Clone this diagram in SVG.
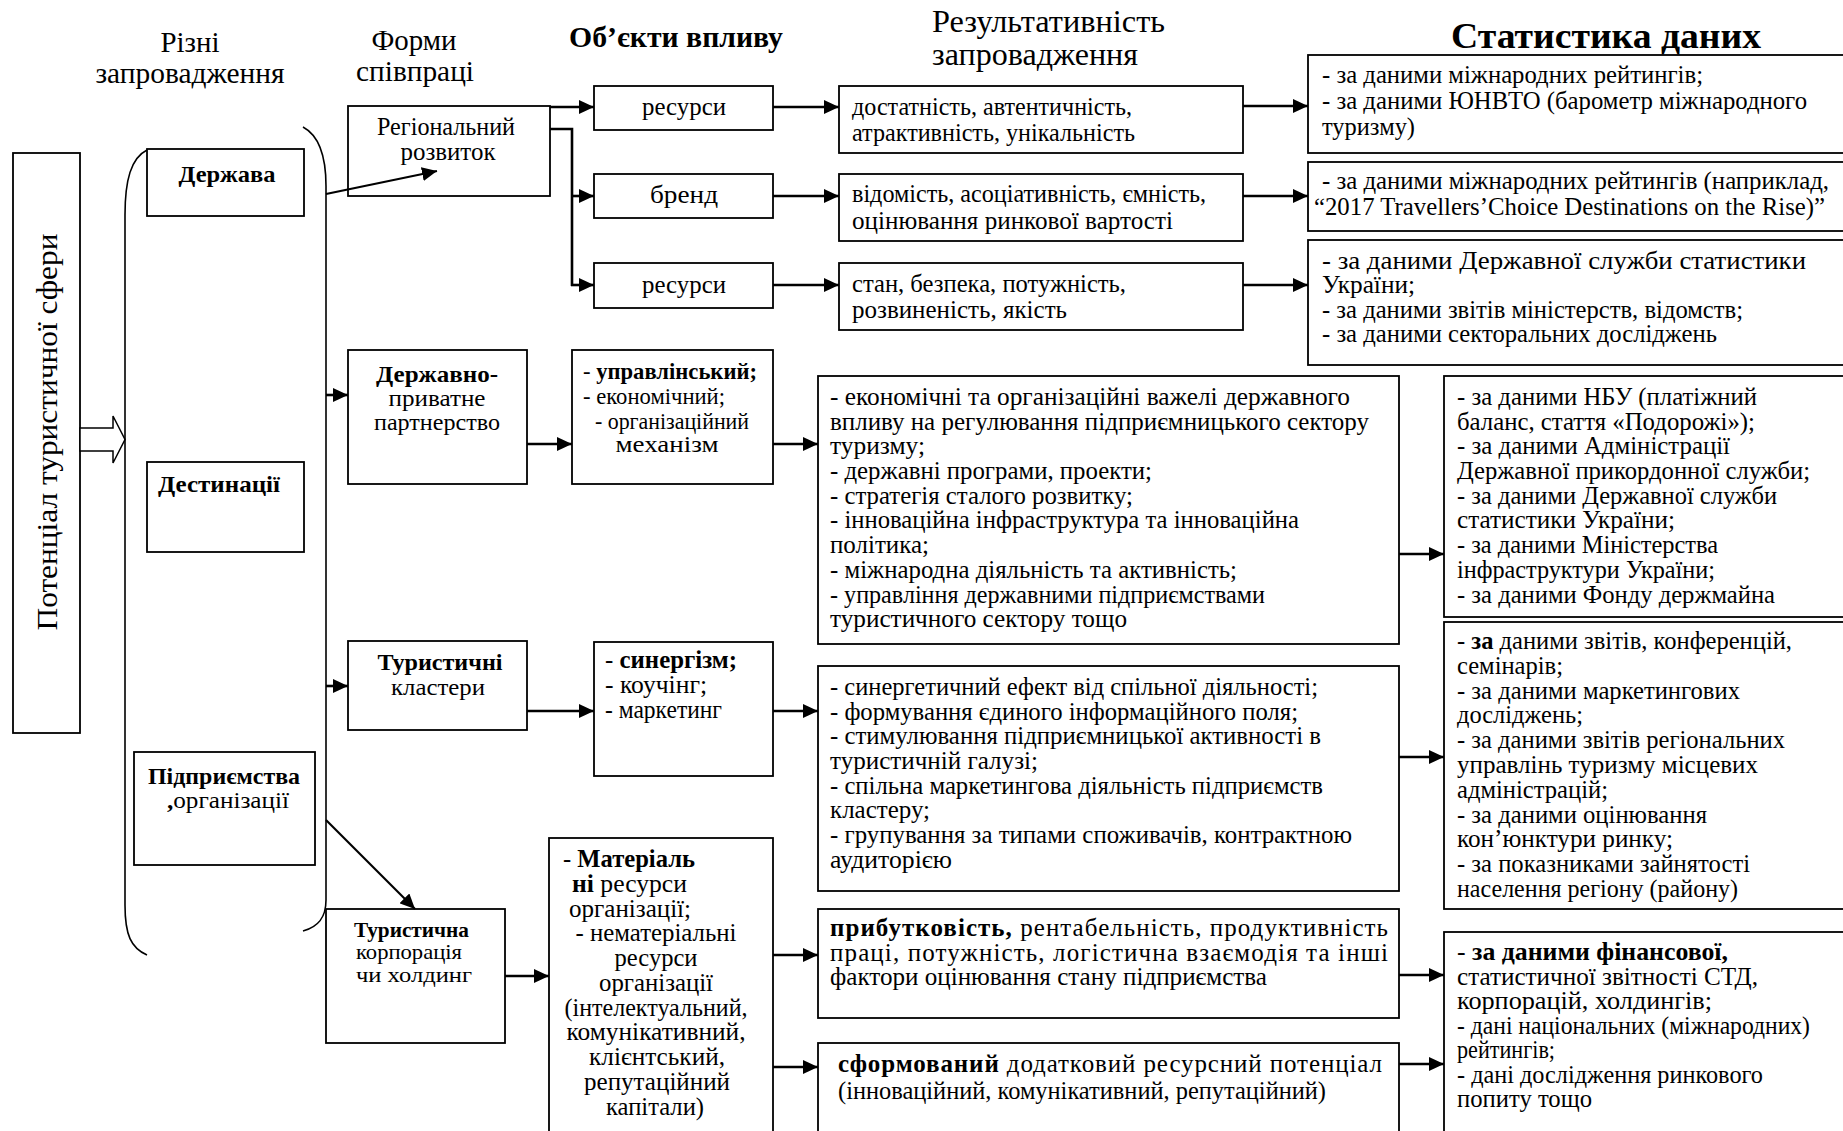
<svg xmlns="http://www.w3.org/2000/svg" width="1843" height="1131" viewBox="0 0 1843 1131">
<style>
.t{font-family:"Liberation Serif","Times New Roman",serif;font-size:25px;fill:#000}
.h{font-size:29px}
.s{font-size:23px}
.b{font-weight:bold}
.box{fill:#fff;stroke:#000;stroke-width:1.8}
.c{stroke:#000;stroke-width:2.6;fill:none;marker-end:url(#ah)}
.ct{stroke:#000;stroke-width:2.2;fill:none;marker-end:url(#ah)}
.ln{stroke:#000;stroke-width:2.6;fill:none}
.br{stroke:#000;stroke-width:1.6;fill:none}
</style>
<defs>
<marker id="ah" markerUnits="userSpaceOnUse" markerWidth="16" markerHeight="14" refX="15" refY="7" orient="auto">
<path d="M0,0 L15,7 L0,14 Z" fill="#000"/>
</marker>
</defs>
<rect width="1843" height="1131" fill="#fff"/>

<g id="headers" class="t">
<text class="h" x="190" y="52" text-anchor="middle" textLength="59" lengthAdjust="spacingAndGlyphs">Різні</text>
<text class="h" x="190" y="83" text-anchor="middle" textLength="189" lengthAdjust="spacingAndGlyphs">запровадження</text>
<text class="h" x="414" y="50" text-anchor="middle" textLength="85" lengthAdjust="spacingAndGlyphs">Форми</text>
<text class="h" x="415" y="81" text-anchor="middle" textLength="118" lengthAdjust="spacingAndGlyphs">співпраці</text>
<text class="h b" x="569" y="47" textLength="214" lengthAdjust="spacingAndGlyphs">Об’єкти впливу</text>
<text x="932" y="32" style="font-size:31px" textLength="233" lengthAdjust="spacingAndGlyphs">Результативність</text>
<text x="932" y="65" style="font-size:31px" textLength="206" lengthAdjust="spacingAndGlyphs">запровадження</text>
<text class="b" x="1451" y="48" style="font-size:36px" textLength="310" lengthAdjust="spacingAndGlyphs">Статистика даних</text>
</g>

<g id="potential">
<rect class="box" x="13" y="153" width="67" height="580"/>
<text class="t" transform="translate(57,432) rotate(-90)" text-anchor="middle" style="font-size:30px" textLength="397" lengthAdjust="spacingAndGlyphs">Потенціал туристичної сфери</text>
</g>

<g id="hollow-arrow">
<polygon points="80,428 113,428 113,416 125,439.5 113,463 113,451 80,451" fill="#fff" stroke="#000" stroke-width="1.5"/>
</g>

<g id="brackets">
<path class="br" d="M147,150 C131,158 125,180 125,215 L125,905 C125,935 131,948 147,955"/>
<path class="br" d="M303,127 C318,135 326,155 326,186 L326,900 C326,918 318,927 303,931"/>
</g>

<g id="derzhava">
<rect class="box" x="147" y="149" width="157" height="67"/>
<text class="t b" x="227" y="182" text-anchor="middle" style="font-size:24px" textLength="97" lengthAdjust="spacingAndGlyphs">Держава</text>
</g>
<g id="destynatsii">
<rect class="box" x="147" y="462" width="157" height="90"/>
<text class="t b" x="219" y="492" text-anchor="middle" style="font-size:24px" textLength="122" lengthAdjust="spacingAndGlyphs">Дестинації</text>
</g>
<g id="pidpryiemstva">
<rect class="box" x="134" y="752" width="181" height="113"/>
<text class="t b" x="224" y="784" text-anchor="middle" style="font-size:24px" textLength="152" lengthAdjust="spacingAndGlyphs">Підприємства</text>
<text class="t" x="228" y="808" text-anchor="middle" style="font-size:24px" textLength="122" lengthAdjust="spacingAndGlyphs"><tspan class="b">,</tspan>організації</text>
</g>

<g id="rehionalnyi">
<rect class="box" x="348" y="106" width="202" height="90"/>
<text class="t" x="446" y="135" text-anchor="middle" textLength="138" lengthAdjust="spacingAndGlyphs">Регіональний</text>
<text class="t" x="448" y="160" text-anchor="middle" textLength="95" lengthAdjust="spacingAndGlyphs">розвиток</text>
</g>
<g id="resursy1">
<rect class="box" x="594" y="86" width="179" height="44"/>
<text class="t" x="684" y="115" text-anchor="middle" textLength="84" lengthAdjust="spacingAndGlyphs">ресурси</text>
</g>
<g id="brend">
<rect class="box" x="594" y="174" width="179" height="44"/>
<text class="t" x="684" y="203" text-anchor="middle" textLength="68" lengthAdjust="spacingAndGlyphs">бренд</text>
</g>
<g id="resursy2">
<rect class="box" x="594" y="263" width="179" height="45"/>
<text class="t" x="684" y="293" text-anchor="middle" textLength="84" lengthAdjust="spacingAndGlyphs">ресурси</text>
</g>

<g id="result1">
<rect class="box" x="839" y="86" width="404" height="67"/>
<text class="t" x="852" y="115" textLength="280" lengthAdjust="spacingAndGlyphs">достатність, автентичність,</text>
<text class="t" x="852" y="141" textLength="283" lengthAdjust="spacingAndGlyphs">атрактивність, унікальність</text>
</g>
<g id="result2">
<rect class="box" x="839" y="174" width="404" height="67"/>
<text class="t" x="852" y="202" textLength="354" lengthAdjust="spacingAndGlyphs">відомість, асоціативність, ємність,</text>
<text class="t" x="852" y="229" textLength="321" lengthAdjust="spacingAndGlyphs">оцінювання ринкової вартості</text>
</g>
<g id="result3">
<rect class="box" x="839" y="263" width="404" height="67"/>
<text class="t" x="852" y="292" textLength="274" lengthAdjust="spacingAndGlyphs">стан, безпека, потужність,</text>
<text class="t" x="852" y="318" textLength="215" lengthAdjust="spacingAndGlyphs">розвиненість, якість</text>
</g>

<g id="stats1">
<rect class="box" x="1308" y="55" width="545" height="98"/>
<text class="t" x="1322" y="83" textLength="381" lengthAdjust="spacingAndGlyphs">- за даними міжнародних рейтингів;</text>
<text class="t" x="1322" y="109" textLength="485" lengthAdjust="spacingAndGlyphs">- за даними ЮНВТО (барометр міжнародного</text>
<text class="t" x="1322" y="135" textLength="93" lengthAdjust="spacingAndGlyphs">туризму)</text>
</g>
<g id="stats2">
<rect class="box" x="1308" y="162" width="545" height="69"/>
<text class="t" x="1322" y="189" textLength="507" lengthAdjust="spacingAndGlyphs">- за даними міжнародних рейтингів (наприклад,</text>
<text class="t" x="1314" y="215" textLength="511" lengthAdjust="spacingAndGlyphs">“2017 Travellers’Choice Destinations on the Rise)”</text>
</g>
<g id="stats3">
<rect class="box" x="1308" y="240" width="545" height="125"/>
<text class="t" x="1322" y="269" textLength="484" lengthAdjust="spacingAndGlyphs">-  за даними Державної служби статистики</text>
<text class="t" x="1322" y="293" textLength="93" lengthAdjust="spacingAndGlyphs">України;</text>
<text class="t" x="1322" y="318" textLength="421" lengthAdjust="spacingAndGlyphs">- за даними звітів міністерств, відомств;</text>
<text class="t" x="1322" y="342" textLength="395" lengthAdjust="spacingAndGlyphs">- за даними секторальних досліджень</text>
</g>

<g id="dpp">
<rect class="box" x="348" y="350" width="179" height="134"/>
<text class="t b" x="437" y="382" text-anchor="middle" style="font-size:24px" textLength="122" lengthAdjust="spacingAndGlyphs">Державно-</text>
<text class="t" x="437" y="406" text-anchor="middle" style="font-size:24px" textLength="97" lengthAdjust="spacingAndGlyphs">приватне</text>
<text class="t" x="437" y="430" text-anchor="middle" style="font-size:24px" textLength="126" lengthAdjust="spacingAndGlyphs">партнерство</text>
</g>
<g id="mekhanizm">
<rect class="box" x="572" y="350" width="201" height="134"/>
<text class="t s" x="583" y="379" textLength="174" lengthAdjust="spacingAndGlyphs">- <tspan class="b">управлінський;</tspan></text>
<text class="t s" x="583" y="404" textLength="142" lengthAdjust="spacingAndGlyphs">- економічний;</text>
<text class="t s" x="672" y="429" text-anchor="middle" textLength="154" lengthAdjust="spacingAndGlyphs">-  організаційний</text>
<text class="t s" x="667" y="452" text-anchor="middle" textLength="103" lengthAdjust="spacingAndGlyphs">механізм</text>
</g>
<g id="vazheli">
<rect class="box" x="818" y="376" width="581" height="268"/>
<text class="t" x="830" y="405" textLength="520" lengthAdjust="spacingAndGlyphs">- економічні та організаційні важелі державного</text>
<text class="t" x="830" y="430" textLength="539" lengthAdjust="spacingAndGlyphs">впливу на регулювання підприємницького сектору</text>
<text class="t" x="830" y="454" textLength="95" lengthAdjust="spacingAndGlyphs">туризму;</text>
<text class="t" x="830" y="479" textLength="322" lengthAdjust="spacingAndGlyphs">- державні програми, проекти;</text>
<text class="t" x="830" y="504" textLength="303" lengthAdjust="spacingAndGlyphs">- стратегія сталого розвитку;</text>
<text class="t" x="830" y="528" textLength="469" lengthAdjust="spacingAndGlyphs">- інноваційна інфраструктура та інноваційна</text>
<text class="t" x="830" y="553" textLength="99" lengthAdjust="spacingAndGlyphs">політика;</text>
<text class="t" x="830" y="578" textLength="407" lengthAdjust="spacingAndGlyphs">- міжнародна діяльність та активність;</text>
<text class="t" x="830" y="603" textLength="435" lengthAdjust="spacingAndGlyphs">- управління державними підприємствами</text>
<text class="t" x="830" y="627" textLength="297" lengthAdjust="spacingAndGlyphs">туристичного сектору тощо</text>
</g>
<g id="stats4">
<rect class="box" x="1444" y="376" width="410" height="241"/>
<text class="t" x="1457" y="405" textLength="300" lengthAdjust="spacingAndGlyphs">- за даними НБУ (платіжний</text>
<text class="t" x="1457" y="430" textLength="298" lengthAdjust="spacingAndGlyphs">баланс, стаття «Подорожі»);</text>
<text class="t" x="1457" y="454" textLength="273" lengthAdjust="spacingAndGlyphs">- за даними Адміністрації</text>
<text class="t" x="1457" y="479" textLength="353" lengthAdjust="spacingAndGlyphs">Державної прикордонної служби;</text>
<text class="t" x="1457" y="504" textLength="320" lengthAdjust="spacingAndGlyphs">- за даними Державної служби</text>
<text class="t" x="1457" y="528" textLength="218" lengthAdjust="spacingAndGlyphs">статистики України;</text>
<text class="t" x="1457" y="553" textLength="261" lengthAdjust="spacingAndGlyphs">- за даними Міністерства</text>
<text class="t" x="1457" y="578" textLength="258" lengthAdjust="spacingAndGlyphs">інфраструктури України;</text>
<text class="t" x="1457" y="603" textLength="318" lengthAdjust="spacingAndGlyphs">- за даними Фонду держмайна</text>
</g>

<g id="klastery">
<rect class="box" x="348" y="641" width="179" height="89"/>
<text class="t b" x="440" y="670" text-anchor="middle" style="font-size:24px" textLength="125" lengthAdjust="spacingAndGlyphs">Туристичні</text>
<text class="t" x="438" y="695" text-anchor="middle" style="font-size:24px" textLength="94" lengthAdjust="spacingAndGlyphs">кластери</text>
</g>
<g id="synerhizm">
<rect class="box" x="594" y="642" width="179" height="134"/>
<text class="t" x="605" y="668" textLength="132" lengthAdjust="spacingAndGlyphs">- <tspan class="b">синергізм;</tspan></text>
<text class="t" x="605" y="693" textLength="102" lengthAdjust="spacingAndGlyphs">- коучінг;</text>
<text class="t" x="605" y="718" textLength="117" lengthAdjust="spacingAndGlyphs">- маркетинг</text>
</g>
<g id="efekt">
<rect class="box" x="818" y="666" width="581" height="225"/>
<text class="t" x="830" y="695" textLength="488" lengthAdjust="spacingAndGlyphs">- синергетичний ефект від спільної діяльності;</text>
<text class="t" x="830" y="720" textLength="468" lengthAdjust="spacingAndGlyphs">- формування єдиного інформаційного поля;</text>
<text class="t" x="830" y="744" textLength="491" lengthAdjust="spacingAndGlyphs">- стимулювання підприємницької активності в</text>
<text class="t" x="830" y="769" textLength="208" lengthAdjust="spacingAndGlyphs">туристичній галузі;</text>
<text class="t" x="830" y="794" textLength="493" lengthAdjust="spacingAndGlyphs">- спільна маркетингова діяльність підприємств</text>
<text class="t" x="830" y="818" textLength="100" lengthAdjust="spacingAndGlyphs">кластеру;</text>
<text class="t" x="830" y="843" textLength="522" lengthAdjust="spacingAndGlyphs">- групування за типами споживачів, контрактною</text>
<text class="t" x="830" y="868" textLength="122" lengthAdjust="spacingAndGlyphs">аудиторією</text>
</g>
<g id="stats5">
<rect class="box" x="1444" y="622" width="410" height="287"/>
<text class="t" x="1457" y="649" textLength="335" lengthAdjust="spacingAndGlyphs">- <tspan class="b">за</tspan> даними звітів, конференцій,</text>
<text class="t" x="1457" y="674" textLength="106" lengthAdjust="spacingAndGlyphs">семінарів;</text>
<text class="t" x="1457" y="699" textLength="283" lengthAdjust="spacingAndGlyphs">- за даними маркетингових</text>
<text class="t" x="1457" y="723" textLength="126" lengthAdjust="spacingAndGlyphs">досліджень;</text>
<text class="t" x="1457" y="748" textLength="328" lengthAdjust="spacingAndGlyphs">- за даними звітів регіональних</text>
<text class="t" x="1457" y="773" textLength="301" lengthAdjust="spacingAndGlyphs">управлінь туризму місцевих</text>
<text class="t" x="1457" y="798" textLength="151" lengthAdjust="spacingAndGlyphs">адміністрацій;</text>
<text class="t" x="1457" y="823" textLength="250" lengthAdjust="spacingAndGlyphs">- за даними оцінювання</text>
<text class="t" x="1457" y="847" textLength="216" lengthAdjust="spacingAndGlyphs">кон’юнктури ринку;</text>
<text class="t" x="1457" y="872" textLength="293" lengthAdjust="spacingAndGlyphs">- за показниками зайнятості</text>
<text class="t" x="1457" y="897" textLength="281" lengthAdjust="spacingAndGlyphs">населення регіону (району)</text>
</g>

<g id="korporatsiia">
<rect class="box" x="326" y="909" width="179" height="134"/>
<text class="t b" x="354" y="937" style="font-size:22px" textLength="115" lengthAdjust="spacingAndGlyphs">Туристична</text>
<text class="t" x="356" y="959" style="font-size:22px" textLength="106" lengthAdjust="spacingAndGlyphs">корпорація</text>
<text class="t" x="356" y="982" style="font-size:22px" textLength="116" lengthAdjust="spacingAndGlyphs">чи холдинг</text>
</g>
<g id="resursy-org">
<rect class="box" x="549" y="838" width="224" height="310"/>
<text class="t" x="563" y="867" textLength="132" lengthAdjust="spacingAndGlyphs">- <tspan class="b">Матеріаль</tspan></text>
<text class="t" x="572" y="892" textLength="115" lengthAdjust="spacingAndGlyphs"><tspan class="b">ні</tspan>  ресурси</text>
<text class="t" x="569" y="917" textLength="122" lengthAdjust="spacingAndGlyphs">організації;</text>
<text class="t" x="656" y="941" text-anchor="middle" textLength="161" lengthAdjust="spacingAndGlyphs">- нематеріальні</text>
<text class="t" x="656" y="966" text-anchor="middle" textLength="83" lengthAdjust="spacingAndGlyphs">ресурси</text>
<text class="t" x="656" y="991" text-anchor="middle" textLength="114" lengthAdjust="spacingAndGlyphs">організації</text>
<text class="t" x="656" y="1016" text-anchor="middle" textLength="183" lengthAdjust="spacingAndGlyphs">(інтелектуальний,</text>
<text class="t" x="656" y="1040" text-anchor="middle" textLength="179" lengthAdjust="spacingAndGlyphs">комунікативний,</text>
<text class="t" x="657" y="1065" text-anchor="middle" textLength="136" lengthAdjust="spacingAndGlyphs">клієнтський,</text>
<text class="t" x="657" y="1090" text-anchor="middle" textLength="146" lengthAdjust="spacingAndGlyphs">репутаційний</text>
<text class="t" x="655" y="1115" text-anchor="middle" textLength="98" lengthAdjust="spacingAndGlyphs">капітали)</text>
</g>
<g id="prybutkovist">
<rect class="box" x="818" y="909" width="581" height="109"/>
<text class="t" x="830" y="936" textLength="558" lengthAdjust="spacing"><tspan class="b">прибутковість,</tspan>     рентабельність,     продуктивність</text>
<text class="t" x="830" y="961" textLength="558" lengthAdjust="spacing">праці,  потужність,  логістична  взаємодія  та  інші</text>
<text class="t" x="830" y="985" textLength="437" lengthAdjust="spacingAndGlyphs">фактори оцінювання стану підприємства</text>
</g>
<g id="sformovanyi">
<rect class="box" x="818" y="1043" width="581" height="100"/>
<text class="t" x="838" y="1072" textLength="544" lengthAdjust="spacing"><tspan class="b">сформований</tspan>  додатковий  ресурсний  потенціал</text>
<text class="t" x="838" y="1099" textLength="488" lengthAdjust="spacingAndGlyphs">(інноваційний, комунікативний, репутаційний)</text>
</g>
<g id="stats6">
<rect class="box" x="1444" y="932" width="410" height="210"/>
<text class="t" x="1457" y="960" textLength="271" lengthAdjust="spacingAndGlyphs">- <tspan class="b">за даними фінансової,</tspan></text>
<text class="t" x="1457" y="985" textLength="301" lengthAdjust="spacingAndGlyphs">статистичної звітності СТД,</text>
<text class="t" x="1457" y="1009" textLength="255" lengthAdjust="spacingAndGlyphs">корпорацій, холдингів;</text>
<text class="t" x="1457" y="1034" textLength="353" lengthAdjust="spacingAndGlyphs">- дані національних (міжнародних)</text>
<text class="t" x="1457" y="1058" textLength="98" lengthAdjust="spacingAndGlyphs">рейтингів;</text>
<text class="t" x="1457" y="1083" textLength="306" lengthAdjust="spacingAndGlyphs">- дані  дослідження  ринкового</text>
<text class="t" x="1457" y="1107" textLength="135" lengthAdjust="spacingAndGlyphs">попиту тощо</text>
</g>

<g id="connectors">
<line class="ct" x1="326" y1="194" x2="437" y2="171"/>
<line class="c" x1="550" y1="107" x2="594" y2="107"/>
<polyline class="ln" points="550,129 572,129 572,286"/>
<line class="c" x1="571" y1="196" x2="594" y2="196"/>
<line class="c" x1="571" y1="285" x2="594" y2="285"/>
<line class="c" x1="773" y1="107" x2="839" y2="107"/>
<line class="c" x1="773" y1="196" x2="839" y2="196"/>
<line class="c" x1="773" y1="285" x2="839" y2="285"/>
<line class="c" x1="1243" y1="106" x2="1308" y2="106"/>
<line class="c" x1="1243" y1="196" x2="1308" y2="196"/>
<line class="c" x1="1243" y1="285" x2="1308" y2="285"/>
<line class="c" x1="326" y1="395" x2="348" y2="395"/>
<line class="c" x1="527" y1="444" x2="572" y2="444"/>
<line class="c" x1="773" y1="444" x2="818" y2="444"/>
<line class="c" x1="1399" y1="554" x2="1444" y2="554"/>
<line class="c" x1="326" y1="686" x2="348" y2="686"/>
<line class="c" x1="527" y1="711" x2="594" y2="711"/>
<line class="c" x1="773" y1="711" x2="818" y2="711"/>
<line class="c" x1="1399" y1="757" x2="1444" y2="757"/>
<line class="ct" x1="326" y1="820" x2="415" y2="909"/>
<line class="c" x1="505" y1="976" x2="549" y2="976"/>
<line class="c" x1="773" y1="955" x2="818" y2="955"/>
<line class="c" x1="773" y1="1067" x2="818" y2="1067"/>
<line class="c" x1="1399" y1="975" x2="1444" y2="975"/>
<line class="c" x1="1399" y1="1064" x2="1444" y2="1064"/>
</g>
</svg>
